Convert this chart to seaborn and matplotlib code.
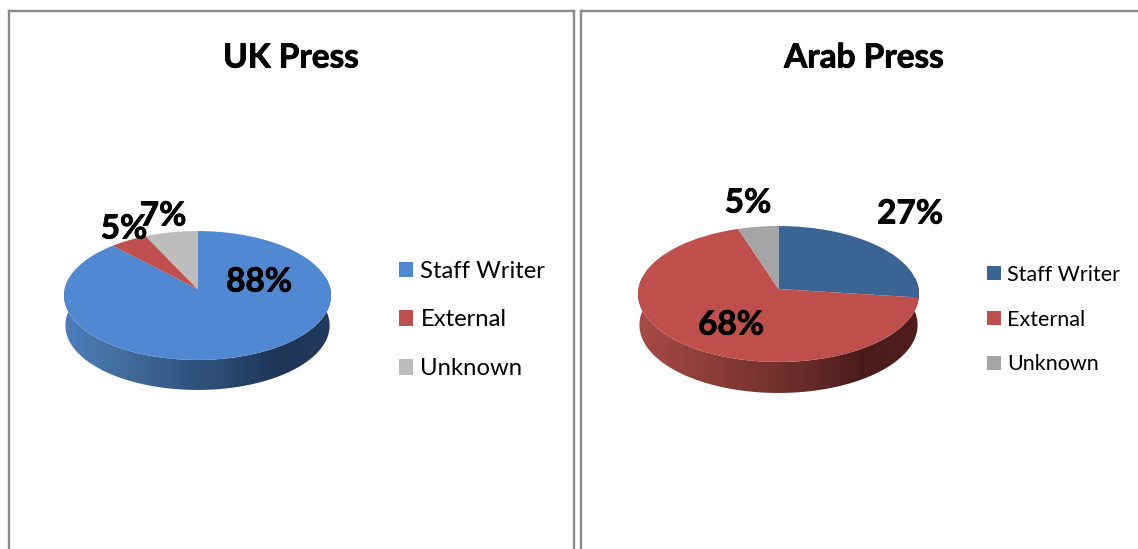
import numpy as np
import seaborn as sns
import matplotlib
matplotlib.use('Agg')
import matplotlib.pyplot as plt
import matplotlib.patheffects as pe
from matplotlib.patches import Polygon
from matplotlib.transforms import Transform

W, H = 1138, 549

categories = ['Staff Writer', 'External', 'Unknown']
uk_values = [88, 5, 7]
arab_values = [27, 68, 5]
uk_colors = ['#5088D2', '#C0504D', '#BDBDBD']
arab_colors = ['#3A6493', '#BE4F4C', '#A5A5A5']
uk_side = ['#4C7DBE', '#44709F', '#385A88', '#2B4972', '#1F3556', '#243A5C']
arab_side = ['#A84B47', '#92403C', '#7C3533', '#652B2A', '#4A1B1A', '#501E1C']


class Persp(Transform):
    # small perspective so that the near side of the disc looks bigger
    input_dims = 2
    output_dims = 2
    is_separable = False

    def __init__(self, p):
        super().__init__()
        self.p = p

    def transform_non_affine(self, xy):
        xy = np.asarray(xy, dtype=float)
        w = 1 + self.p * xy[:, 1]
        return np.column_stack([xy[:, 0] / w, xy[:, 1] / w])


def px_to_data(x, y, cx, cy, rx, ry):
    return (x - cx) / rx, (cy - y) / ry


def draw_panel(box, title, title_x, values, colors, side, geom, label_pos, leg):
    left, right, top, bottom = box
    cx, cy, rx, ry, p, depth = geom
    ax = fig.add_axes([left / W, (H - bottom) / H, (right - left) / W, (bottom - top) / H])
    wedges, _, autotexts = ax.pie(values, colors=sns.color_palette(colors), startangle=90,
                                  counterclock=False, autopct='%.0f%%', frame=True,
                                  textprops=dict(family='Lato', weight='bold', fontsize=24, color='black'))
    proj = Persp(p)
    for w in wedges:
        w.set_transform(proj + ax.transData)
        w.set_linewidth(0)
    for at, pos in zip(autotexts, label_pos):
        at.set_position(px_to_data(pos[0], pos[1], cx, cy, rx, ry))
        at.set_ha('center')
        at.set_va('center')
        at.set_zorder(5)
        at.set_path_effects([pe.withStroke(linewidth=0.6, foreground='black')])

    # side of the disc, gradient clipped to the band under the front edge
    theta = np.radians(np.linspace(170, 370, 200))
    top_arc = proj.transform(np.column_stack([np.cos(theta), np.sin(theta)]))
    low_arc = top_arc * [0.99, 1] - [0, depth / ry]
    band = Polygon(np.vstack([low_arc, top_arc[::-1]]), closed=True, transform=ax.transData,
                   facecolor='none', edgecolor='none')
    ax.add_patch(band)
    cmap = sns.blend_palette(side, as_cmap=True)
    im = ax.imshow(np.linspace(0, 1, 256)[None, :], cmap=cmap, aspect='auto', zorder=0,
                   extent=[-1.02, 1.02, -1.7, 0.2])
    im.set_clip_path(band)

    ax.set_aspect('auto')
    ax.set_xlim((left - cx) / rx, (right - cx) / rx)
    ax.set_ylim((cy - bottom) / ry, (cy - top) / ry)
    ax.set_xticks([])
    ax.set_yticks([])
    for s in ax.spines.values():
        s.set_color('#8A8A8A')
        s.set_linewidth(1.7)

    fig.text(title_x / W, 1 - 58 / H, title, family='Lato', weight='bold', fontsize=24,
             color='black', ha='center', va='center',
             path_effects=[pe.withStroke(linewidth=0.6, foreground='black')])

    ax.legend(wedges, categories, loc='center left', frameon=False,
              bbox_to_anchor=((leg[0] - left) / (right - left), (bottom - leg[1]) / (bottom - top)),
              prop=dict(family='Lato', size=leg[2]), handlelength=leg[4], handleheight=leg[4],
              handletextpad=leg[5], labelspacing=leg[3], borderpad=0, borderaxespad=0,
              labelcolor='black')
    return ax


sns.set_theme(style='white')
fig = plt.figure(figsize=(W / 100, H / 100), dpi=100, facecolor='white')

draw_panel((9, 574, 11, 620), 'UK Press', 291, uk_values, uk_colors, uk_side,
           (197.5, 289, 132.8, 63.8, 0.1008, 30),
           [(259, 282), (124, 229), (163, 216)], (399, 320, 17.2, 1.17, 0.6, 0.3))
draw_panel((581, 1160, 11, 620), 'Arab Press', 864, arab_values, arab_colors, arab_side,
           (778.5, 289, 140.1, 67.6, 0.0735, 31),
           [(910, 214), (731, 325), (748, 203)], (987, 319.5, 15.5, 1.16, 0.65, 0.28))

fig.savefig('out.png', dpi=100)
